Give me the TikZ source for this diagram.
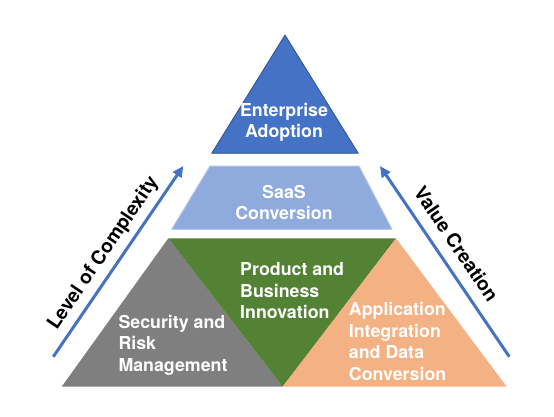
\documentclass[tikz,border=0pt]{standalone}
\usepackage{fontspec}
\setmainfont{TeX Gyre Heros}
\usetikzlibrary{arrows.meta}
\definecolor{pyrtop}{RGB}{68,114,196}
\definecolor{pyrtopedge}{RGB}{47,82,143}
\definecolor{pyrmid}{RGB}{143,170,220}
\definecolor{pyrmidedge}{RGB}{180,199,231}
\definecolor{pyrgrn}{RGB}{84,130,53}
\definecolor{pyrgry}{RGB}{127,127,127}
\definecolor{pyrorg}{RGB}{244,177,131}
\definecolor{pyraxis}{RGB}{68,114,196}
\tikzset{
  tier/.style={line join=round},
  lbl/.style={
    text=white, inner sep=0pt, align=center,
    font=\bfseries\fontsize{17.8}{21.5}\selectfont
  },
  lbll/.style={lbl, align=left, anchor=west},
  axis/.style={-{Triangle[length=11pt,width=10pt]}, draw=pyraxis, line width=3pt},
  axlbl/.style={inner sep=0pt, font=\bfseries\fontsize{19.2}{22}\selectfont}
}
\begin{document}
\begin{tikzpicture}[x=1pt, y=1pt]
  \useasboundingbox (0,0) rectangle (554,-416);

  % tiers
  \fill[tier, pyrtop, draw=pyrtopedge, line width=0.8pt]
    (285,-35) -- (358.3,-153.3) -- (211.7,-153.3) -- cycle;
  \fill[tier, pyrmid, draw=pyrmidedge, line width=1pt]
    (210,-166) -- (359,-166) -- (392,-229.3) -- (171.7,-229.3) -- cycle;
  \fill[tier, pyrgry] (168.3,-238.3) -- (282.7,-386.7) -- (61.7,-386.7) -- cycle;
  \fill[tier, pyrgrn] (168.3,-238.3) -- (396,-238.3) -- (282.7,-386.7) -- cycle;
  \fill[tier, pyrorg] (396,-238.3) -- (506.7,-386.7) -- (282.7,-386.7) -- cycle;

  % labels
  \node[lbl] (ent) at (284,-122.3) {Enterprise\\Adoption};
  \node[lbl] (saas) at (284,-202.5) {SaaS\\Conversion};
  \node[lbll] (prod) at (240,-291) {Product and\\Business\\Innovation};
  \node[lbll] (sec) at (118.3,-345) {Security and\\Risk\\Management};
  \node[lbll] (app) at (348.7,-341.7) {Application\\Integration\\and Data\\Conversion};

  % axes
  \coordinate (cxs) at (53.3,-356.7);
  \coordinate (cxe) at (183.3,-166);
  \coordinate (vcs) at (509.3,-356.7);
  \coordinate (vce) at (380,-166);
  \draw[axis] (cxs) -- (cxe);
  \draw[axis] (vcs) -- (vce);
  \node[axlbl, rotate=55.7] (cxlbl) at (103.5,-253.5) {Level of Complexity};
  \node[axlbl, rotate=-55.7] (vclbl) at (456.5,-244) {Value Creation};
\end{tikzpicture}
\end{document}
